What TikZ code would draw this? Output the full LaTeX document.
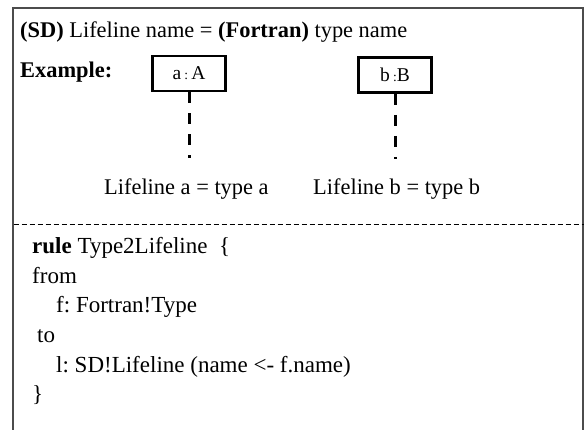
\documentclass[tikz,border=0pt]{standalone}
\usepackage{fontspec}
\setmainfont{Liberation Serif}
\frenchspacing
\begin{document}
\begin{tikzpicture}[
      x=1bp, y=-1bp,
      every node/.style={inner sep=0pt, anchor=base west},
      txt/.style={font=\fontsize{22.4bp}{27bp}\selectfont},
      code/.style={font=\fontsize{23bp}{27bp}\selectfont},
      lifebox/.style={draw, line width=2.5bp, minimum width=73bp, minimum height=35bp,
                      anchor=center, font=\fontsize{19.5bp}{23bp}\selectfont},
      lifeline/.style={line width=3bp, dash pattern=on 11bp off 10bp},
      frame/.style={line width=2bp, black!70}
  ]
  \useasboundingbox (0,0) rectangle (584,429);
  \clip (0,0) rectangle (584,429);

  % Outer frame and separator
  \draw[frame] (12.5,432) -- (12.5,8) -- (583,8) -- (583,432);
  \draw[line width=1bp, dash pattern=on 5bp off 3bp] (13.5,224) -- (584,224);

  % Header
  \node[txt] (title) at (20,37) {\textbf{(SD)} Lifeline name = \textbf{(Fortran)} type name};
  \node[txt] (example) at (20,77) {\textbf{Example:}};

  % Lifelines
  \node[lifebox] (boxa) at (189,73.5) {a\,{\fontsize{13.5bp}{15bp}\selectfont:}\,A};
  \node[lifebox] (boxb) at (395,75) {b\,{\fontsize{13.5bp}{15bp}\selectfont:}B};
  \coordinate (enda) at (189,158);
  \coordinate (endb) at (395,159);
  \draw[lifeline] (boxa.south) -- (enda);
  \draw[lifeline] (boxb.south) -- (endb);
  \node[txt] (labela) at (104,194) {Lifeline a = type a};
  \node[txt] (labelb) at (313,194) {Lifeline b = type b};

  % Transformation rule
  \node[code] (rule) at (32,253) {\textbf{rule} Type2Lifeline~ \{};
  \node[code] (from) at (32,283) {from};
  \node[code] (src) at (56,312.5) {f: Fortran!Type};
  \node[code] (to) at (37,342) {to};
  \node[code] (tgt) at (56,372) {l: SD!Lifeline (name <- f.name)};
  \node[code] (close) at (32,401) {\}};

  \end{tikzpicture}
\end{document}
